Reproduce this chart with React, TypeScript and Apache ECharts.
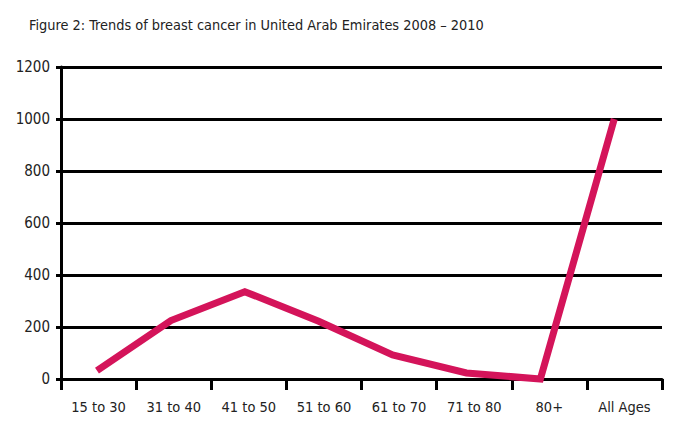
import React, { useEffect, useRef } from "react";
import * as echarts from "echarts";

const title = "Figure 2: Trends of breast cancer in United Arab Emirates 2008 – 2010";
const categories = ["15 to 30", "31 to 40", "41 to 50", "51 to 60", "61 to 70", "71 to 80", "80+", "All Ages"];
const cases = [32, 225, 336, 222, 93, 23, 0, 1000];
const yTicks = { min: 0, max: 1200, interval: 200 };

const FONT = "'Liberation Sans Narrow', 'DejaVu Sans Condensed', 'Roboto Condensed', Arial, sans-serif";

export default function App() {
  const ref = useRef<HTMLDivElement>(null);
  useEffect(() => {
    if (!ref.current) return;
    const chart = echarts.init(ref.current, null, { renderer: "svg" });
    chart.setOption({
      animation: false,
      backgroundColor: "#ffffff",
      title: {
        text: title,
        left: 24,
        top: 13,
        textStyle: { fontFamily: FONT, fontSize: 14.4, fontWeight: "normal", color: "#222" },
      },
      grid: { left: 61, right: 28, top: 67, bottom: 56, containLabel: false },
      xAxis: [
        {
          type: "category",
          data: categories,
          boundaryGap: true,
          axisLine: { lineStyle: { color: "#000", width: 3 } },
          axisTick: { show: true, length: 11, interval: 0, lineStyle: { color: "#000", width: 3 } },
          axisLabel: { fontFamily: FONT, fontSize: 14.5, color: "#222", margin: 20, interval: 0 },
          splitLine: { show: false },
        },
        {
          type: "value",
          show: false,
          min: -0.487,
          max: 7.646,
        },
      ],
      yAxis: {
        type: "value",
        min: yTicks.min,
        max: yTicks.max,
        interval: yTicks.interval,
        axisLine: { show: true, onZero: false, lineStyle: { color: "#000", width: 3 } },
        axisTick: { show: true, length: 5, lineStyle: { color: "#000", width: 3 } },
        axisLabel: {
          fontFamily: FONT,
          fontSize: 15,
          color: "#222",
          margin: 11,
          formatter: (v: number) => String(v),
        },
        splitLine: { show: true, lineStyle: { color: "#000", width: 3 } },
      },
      series: [
        {
          type: "line",
          xAxisIndex: 1,
          data: cases.map((v, i) => [i, v]),
          symbol: "none",
          clip: false,
          lineStyle: { color: "#d4145a", width: 7, join: "miter" },
        },
      ],
    });
    return () => chart.dispose();
  }, []);
  return <div ref={ref} style={{ width: 690, height: 435, position: "absolute", left: 0, top: 0 }} />;
}
